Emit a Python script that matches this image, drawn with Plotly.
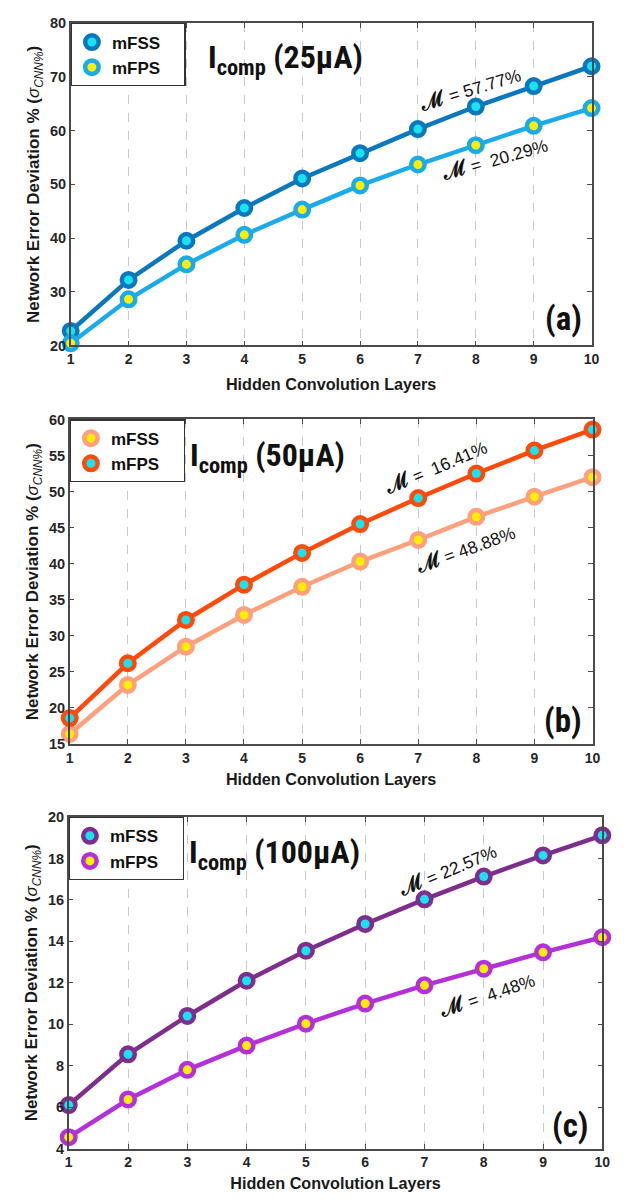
import plotly.graph_objects as go

W, H = 627, 1200

layers = list(range(1, 11))
x_ticklabels = [str(v) for v in layers]

a_mfss = [22.7, 32.2, 39.5, 45.6, 51.1, 55.8, 60.3, 64.5, 68.3, 72.0]
a_mfps = [20.4, 28.6, 35.1, 40.6, 45.3, 49.8, 53.7, 57.3, 60.9, 64.2]
b_mfss = [16.4, 23.2, 28.5, 32.9, 36.8, 40.3, 43.3, 46.5, 49.3, 52.0]
b_mfps = [18.6, 26.2, 32.2, 37.1, 41.5, 45.5, 49.1, 52.5, 55.7, 58.6]
c_mfss = [6.1, 8.55, 10.4, 12.1, 13.55, 14.84, 16.03, 17.13, 18.15, 19.12]
c_mfps = [4.55, 6.37, 7.8, 8.97, 10.03, 11.0, 11.88, 12.68, 13.47, 14.2]

a_yticks = [20, 30, 40, 50, 60, 70, 80]
b_yticks = [15, 20, 25, 30, 35, 40, 45, 50, 55, 60]
c_yticks = [4, 6, 8, 10, 12, 14, 16, 18, 20]

series_names = ["mFSS", "mFPS"]
panel_titles = ["25μA", "50μA", "100μA"]
panel_tags = ["(a)", "(b)", "(c)"]
m_values = [["= 57.77%", "=\u00a0 20.29%"],
            ["=\u00a0 16.41%", "= 48.88%"],
            ["= 22.57%", "=\u00a0 4.48%"]]

CYAN = "#19E3EE"
YEL = "#FFEE00"

# panel geometry in px: (left, right, top, bottom)
geo = [(68, 599, 15.5, 342), (67, 600, 417, 746), (66, 610, 820, 1156)]
xtitle_standoff = [13, 9, 9]

panels = [
    dict(data=[a_mfss, a_mfps], lines=["#0B78BE", "#1AABEA"], fills=[CYAN, YEL],
         yr=[20, 80], yt=a_yticks),
    dict(data=[b_mfss, b_mfps], lines=["#FCA07E", "#FF4A0A"], fills=[YEL, CYAN],
         yr=[15, 60], yt=b_yticks),
    dict(data=[c_mfss, c_mfps], lines=["#7E2F8E", "#B431DA"], fills=[CYAN, YEL],
         yr=[4, 20], yt=c_yticks),
]

# annotation positions (px)
title_pos = [(206, 52), (188, 455), (187, 857)]
tag_pos = [(570, 315), (570, 722), (578, 1133)]
m_pos = [[(475, 82, -17), (500, 153, -16)],
         [(440, 465, -23), (470, 548, -20)],
         [(452, 873, -23), (492, 1000, -19)]]

def px(x):
    return x / W

def py(y):
    return 1 - y / H

fig = go.Figure()
FONT = "Liberation Sans, Arial, sans-serif"
COND = "Roboto Condensed, Liberation Sans, sans-serif"
AXC = "#4a4a4a"

layout = dict(width=W, height=H, margin=dict(l=0, r=0, t=0, b=0),
              plot_bgcolor="white", paper_bgcolor="white", showlegend=True)
annotations = []

for i, p in enumerate(panels):
    k = "" if i == 0 else str(i + 1)
    xa, ya = "x" + k, "y" + k
    L, R, T, B = geo[i]
    for j in range(2):
        fig.add_trace(go.Scatter(
            x=layers, y=p["data"][j], xaxis=xa, yaxis=ya, mode="lines+markers",
            line=dict(color=p["lines"][j], width=4.5),
            marker=dict(size=13.5, color=p["fills"][j], line=dict(color=p["lines"][j], width=4.5)),
            cliponaxis=False, showlegend=False, name=series_names[j]))
    for j in range(2):
        fig.add_trace(go.Scatter(
            x=[None], y=[None], xaxis=xa, yaxis=ya, mode="markers",
            marker=dict(size=13.5, color=p["fills"][j], line=dict(color=p["lines"][j], width=4.5)),
            name=series_names[j] + "\u00a0\u00a0\u00a0\u00a0", legend="legend" + k, showlegend=True))
    layout["xaxis" + k] = dict(
        domain=[px(L), px(R)], anchor=ya, range=[1, 10],
        tickvals=layers, ticktext=x_ticklabels,
        showgrid=True, gridcolor="#c8c8c8", griddash="dash", gridwidth=1,
        showline=True, linecolor=AXC, linewidth=1.5, mirror="ticks",
        ticks="inside", ticklen=5, tickcolor=AXC,
        tickfont=dict(family=FONT, size=14, color="#262626", weight="bold"),
        title=dict(text="<b>Hidden Convolution Layers</b>", standoff=xtitle_standoff[i],
                   font=dict(family=FONT, size=16.2, color="#1a1a1a")),
        zeroline=False)
    layout["yaxis" + k] = dict(
        domain=[py(B), py(T)], anchor=xa, range=p["yr"],
        tickvals=p["yt"], ticktext=[str(v) for v in p["yt"]],
        showgrid=False, showline=True, linecolor=AXC, linewidth=1.5, mirror="ticks",
        ticks="inside", ticklen=5, tickcolor=AXC,
        tickfont=dict(family=FONT, size=14.5, color="#262626", weight="bold"),
        title=dict(text="<b>Network Error Deviation % (</b><i>σ<sub>CNN%</sub></i><b>)</b>",
                   standoff=6, font=dict(family=FONT, size=17, color="#1a1a1a")),
        zeroline=False)
    layout["legend" + k] = dict(
        x=px(L), y=py(T), xanchor="left", yanchor="top", xref="paper", yref="paper",
        bgcolor="white", bordercolor="#333", borderwidth=1.2,
        font=dict(family=FONT, size=17, color="#111", weight="bold"),
        itemwidth=30, tracegroupgap=0)
    tx, ty = title_pos[i]
    annotations.append(dict(
        x=px(tx), y=py(ty), xref="paper", yref="paper", xanchor="left", yanchor="middle",
        showarrow=False,
        text="<b>I<sub>comp</sub> (" + panel_titles[i] + ")</b>",
        font=dict(family=COND, size=32, color="#111")))
    gx, gy = tag_pos[i]
    annotations.append(dict(
        x=px(gx), y=py(gy), xref="paper", yref="paper", xanchor="center", yanchor="middle",
        showarrow=False, text="<b>" + panel_tags[i] + "</b>",
        font=dict(family=COND, size=33, color="#111")))
    for j in range(2):
        mx, my, ang = m_pos[i][j]
        annotations.append(dict(
            x=px(mx), y=py(my), xref="paper", yref="paper", xanchor="center", yanchor="middle",
            showarrow=False,
            text="<span style='font-size:21px'><b>ℳ</b></span> " + m_values[i][j],
            textangle=ang,
            font=dict(family=FONT, size=17.5, color="#111")))

layout["annotations"] = annotations
fig.update_layout(**layout)
fig.write_html("out.html")
